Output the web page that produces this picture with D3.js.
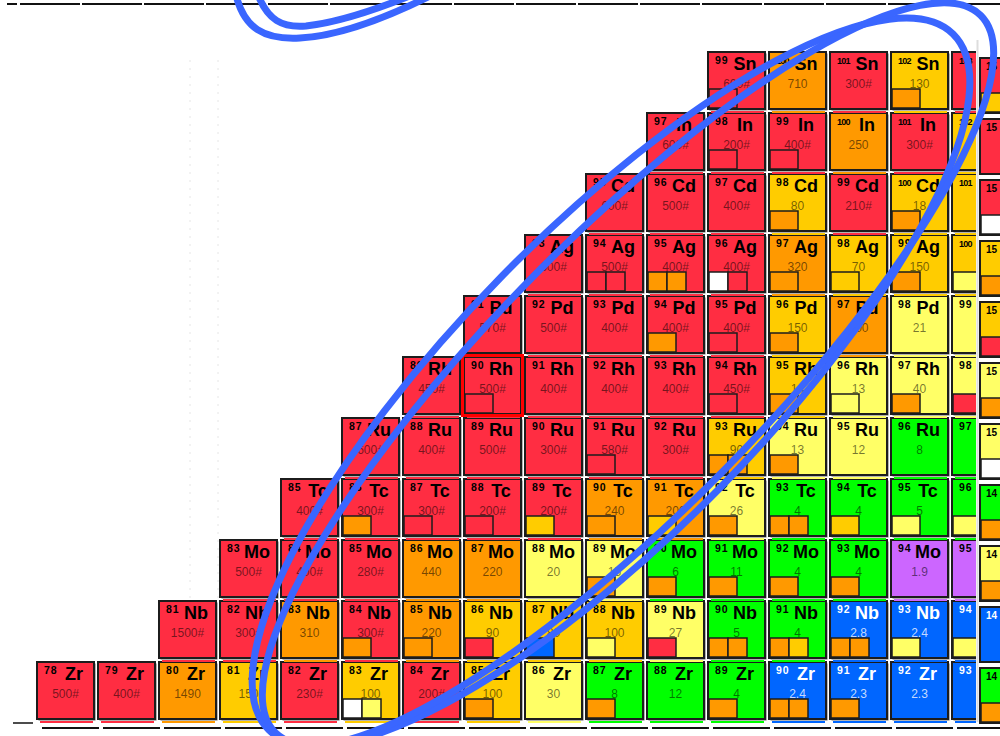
<!DOCTYPE html>
<meta charset="utf-8">
<script src="https://d3js.org/d3.v7.min.js"></script>
<style>
  body { margin: 0; background: #fff; }
</style>
<svg id="chart" width="1000" height="736"></svg>
<script>
// rows of the nuclide chart, bottom (Zr) to top (Sn)
const elements = ["Zr", "Nb", "Mo", "Tc", "Ru", "Rh", "Pd", "Ag", "Cd", "In", "Sn"];
const protons = [40, 41, 42, 43, 44, 45, 46, 47, 48, 49, 50];
const firstMass = [78, 81, 83, 85, 87, 89, 91, 93, 95, 97, 99];

// half-life labels (ms, # = estimated)
const halfLives = [
  ["500#", "400#", "1490", "150", "230#", "100", "200#", "100", "30", "8", "12", "4", "2.4", "2.3", "2.3", "1.4"],
  ["1500#", "300#", "310", "300#", "220", "90", "80", "100", "27", "5", "4", "2.8", "2.4", "1.7"],
  ["500#", "400#", "280#", "440", "220", "20", "15", "6", "11", "4", "4", "1.9", "2"],
  ["400#", "300#", "300#", "200#", "200#", "240", "200", "26", "4", "4", "5", "1"],
  ["600#", "400#", "500#", "300#", "580#", "300#", "90", "13", "12", "8", "3"],
  ["450#", "500#", "400#", "400#", "400#", "450#", "14", "13", "40", "7"],
  ["570#", "500#", "400#", "400#", "400#", "150", "300", "21", "2"],
  ["600#", "500#", "400#", "400#", "320", "70", "150", "1"],
  ["600#", "500#", "400#", "80", "210#", "18", "1"],
  ["600#", "200#", "400#", "250", "300#", "1"],
  ["600#", "710", "300#", "130", "3"]
];

// cell colour codes: r red, o orange, g gold, y pale yellow, G green, B blue, v violet, w white
const cellColors = [
  "rrogrgrgyGGGBBBB",
  "rrorogggyGGBBB",
  "rrrooyyGGGGvv",
  "rrrrrooyGGGG",
  "rrrrrrgyyGG",
  "rrrrrrgyyy",
  "rrrrrgoyy",
  "rrrroggg",
  "rrrgrgg",
  "rrrorg",
  "rorgr"
];

// small boxes in the lower-left corner of a cell (one code = half width, two = thirds)
const subBoxes = [
  ["", "", "", "", "", "wy", "", "o", "", "o", "", "o", "oo", "o", "", ""],
  ["", "", "", "o", "o", "r", "B", "y", "r", "oo", "og", "oo", "y", "y"],
  ["", "", "", "", "", "", "o", "o", "o", "o", "o", "", ""],
  ["", "o", "r", "r", "g", "o", "g", "o", "oo", "g", "y", "y"],
  ["", "", "", "", "r", "", "oo", "o", "", "", ""],
  ["", "r", "", "", "", "r", "o", "y", "o", "r"],
  ["", "", "", "o", "r", "o", "", "", ""],
  ["", "rr", "oo", "wr", "o", "g", "o", "y"],
  ["", "", "", "o", "", "o", ""],
  ["", "r", "r", "", "", ""],
  ["r", "", "", "o", ""]
];

// neighbouring panel cut off at the right edge, Zr row to Sn row
const stripLabels = ["14", "14", "14", "14", "15", "15", "15", "15", "15", "15", "15"];
const stripColors = "GByGyyggrrr".split("");
const stripSubs = ["o", "", "o", "o", "w", "o", "r", "o", "w", "", "g"];

const highlighted = { el: "Rh", mass: 90 };

const palette = {
  r: "#ff2d42", o: "#ff9900", g: "#ffcc00", y: "#ffff66",
  G: "#00ff00", B: "#0066ff", v: "#cc66ff", w: "#ffffff"
};

const svg = d3.select("#chart");
const cell = 57;
const lastFull = 52;   // last neutron column shown whole

const x = d3.scaleLinear().domain([38, 53]).range([37, 952]);
const y = d3.scaleLinear().domain([40, 50]).range([662, 52]);

// flatten rows into cells
const cells = [];
elements.forEach((el, i) => {
  halfLives[i].forEach((v, j) => {
    const A = firstMass[i] + j;
    cells.push({
      el: el, Z: protons[i], A: A, N: A - protons[i],
      value: v, color: cellColors[i][j], subs: subBoxes[i][j].split("")
    });
  });
});

// faint guide lines in the empty area
svg.selectAll("line.guide")
  .data([190, 218])
  .enter().append("line")
    .attr("x1", d => d).attr("x2", d => d)
    .attr("y1", 60).attr("y2", 600)
    .attr("stroke", "#e6e6e6")
    .attr("stroke-dasharray", "2,6");

svg.append("clipPath").attr("id", "gridClip")
  .append("rect").attr("x", 0).attr("y", 0).attr("width", 976).attr("height", 736);

const grid = svg.append("g").attr("clip-path", "url(#gridClip)");

const g = grid.selectAll("g.cell")
  .data(cells)
  .enter().append("g")
    .attr("class", "cell")
    .attr("transform", d => `translate(${x(d.N)},${y(d.Z)})`);

// coloured trace under each cell
g.append("rect")
  .attr("x", 3).attr("y", cell + 2)
  .attr("width", cell - 4).attr("height", 2)
  .attr("fill", d => palette[d.color]);

// shadow
g.append("rect")
  .attr("x", 1.5).attr("y", 1.5)
  .attr("width", cell).attr("height", cell)
  .attr("fill", "#666");

g.append("rect")
  .attr("width", cell).attr("height", cell)
  .attr("fill", d => palette[d.color])
  .attr("stroke", "#1c1c1c")
  .attr("stroke-width", 2);

g.each(function (d) {
  const n = d.subs.length;
  if (!n) return;
  const w = n === 1 ? 28 : 19;
  d3.select(this).selectAll("rect.sub")
    .data(d.subs)
    .enter().append("rect")
      .attr("class", "sub")
      .attr("x", (s, k) => 1 + k * w)
      .attr("y", cell - 20)
      .attr("width", w)
      .attr("height", 19)
      .attr("fill", s => palette[s])
      .attr("stroke", "#1c1c1c")
      .attr("stroke-width", 1.5);
});

g.append("text")
  .attr("x", 7).attr("y", 12)
  .attr("font-family", "Liberation Sans, Arial, sans-serif")
  .attr("font-weight", "bold")
  .attr("font-size", d => d.A >= 100 ? 9 : 10.5)
  .attr("letter-spacing", d => d.A >= 100 ? -0.8 : 1)
  .attr("fill", d => d.color === "B" ? "#fff" : "#000")
  .text(d => d.A);

const whole = g.filter(d => d.N <= lastFull);

whole.append("text")
  .attr("x", 37).attr("y", 18)
  .attr("text-anchor", "middle")
  .attr("font-family", "Liberation Sans Narrow, Arial Narrow, sans-serif")
  .attr("font-weight", "bold")
  .attr("font-size", 18)
  .attr("fill", d => d.color === "B" ? "#fff" : "#000")
  .text(d => d.el);

whole.append("text")
  .attr("x", cell / 2).attr("y", 36)
  .attr("text-anchor", "middle")
  .attr("font-family", "Liberation Sans, Arial, sans-serif")
  .attr("font-size", 12)
  .attr("fill", d => d.color === "B" ? "#dfe8ff" : "#000")
  .attr("fill-opacity", d => d.color === "B" ? 0.9 : 0.55)
  .text(d => d.value);

// highlighted cell
const hl = cells.find(d => d.el === highlighted.el && d.A === highlighted.mass);
grid.append("rect")
  .attr("x", x(hl.N) - 1.5).attr("y", y(hl.Z) - 1.5)
  .attr("width", cell + 3).attr("height", cell + 3)
  .attr("fill", "none")
  .attr("stroke", "#ff0000")
  .attr("stroke-width", 3);

// right-hand strip of the neighbouring panel
const strip = svg.append("g").attr("transform", "translate(980,6)");
const sg = strip.selectAll("g")
  .data(protons.map((Z, i) => ({ Z: Z, label: stripLabels[i], color: stripColors[i], sub: stripSubs[i] })))
  .enter().append("g")
    .attr("transform", d => `translate(0,${y(d.Z)})`);
sg.append("rect")
  .attr("width", cell).attr("height", cell - 2)
  .attr("fill", d => palette[d.color])
  .attr("stroke", "#1c1c1c").attr("stroke-width", 2);
sg.filter(d => d.sub).append("rect")
  .attr("x", 1).attr("y", cell - 22)
  .attr("width", 28).attr("height", 19)
  .attr("fill", d => palette[d.sub])
  .attr("stroke", "#1c1c1c").attr("stroke-width", 1.5);
sg.append("text")
  .attr("x", 6).attr("y", 12)
  .attr("font-family", "Liberation Sans, Arial, sans-serif")
  .attr("font-weight", "bold").attr("font-size", 10)
  .attr("fill", d => d.color === "B" ? "#fff" : "#000")
  .text(d => d.label);

svg.append("line")
  .attr("x1", 977.5).attr("x2", 977.5).attr("y1", 40).attr("y2", 722)
  .attr("stroke", "#ddd").attr("stroke-width", 2);

// frame lines top and bottom
svg.append("line").attr("x1", 7).attr("x2", 17).attr("y1", 4).attr("y2", 4)
  .attr("stroke", "#111").attr("stroke-width", 2);
svg.append("line").attr("x1", 20).attr("x2", 1000).attr("y1", 4).attr("y2", 4)
  .attr("stroke", "#111").attr("stroke-width", 2).attr("stroke-dasharray", "60,2");
svg.append("line").attr("x1", 13).attr("x2", 33).attr("y1", 723).attr("y2", 723)
  .attr("stroke", "#111").attr("stroke-width", 1.5);
svg.append("line").attr("x1", 42).attr("x2", 1000).attr("y1", 728).attr("y2", 728)
  .attr("stroke", "#111").attr("stroke-width", 2).attr("stroke-dasharray", "57,4");

// hand-drawn blue ellipse (two passes of the pen)
const ink = svg.append("g")
  .attr("fill", "none")
  .attr("stroke", "#3a66ff")
  .attr("stroke-width", 7);
ink.append("ellipse")
  .attr("cx", 0).attr("cy", 0).attr("rx", 488).attr("ry", 152)
  .attr("transform", "translate(611,382) rotate(-45.5)");
ink.append("ellipse")
  .attr("cx", 0).attr("cy", 0).attr("rx", 503).attr("ry", 136)
  .attr("transform", "translate(628,374) rotate(-45.5)");
ink.append("path")
  .attr("d", "M236,-5 C244,28 264,40 300,38 C340,36 390,16 432,-5");
ink.append("path")
  .attr("d", "M258,-5 C268,20 282,28 306,26 C342,22 380,8 412,-5");
</script>
